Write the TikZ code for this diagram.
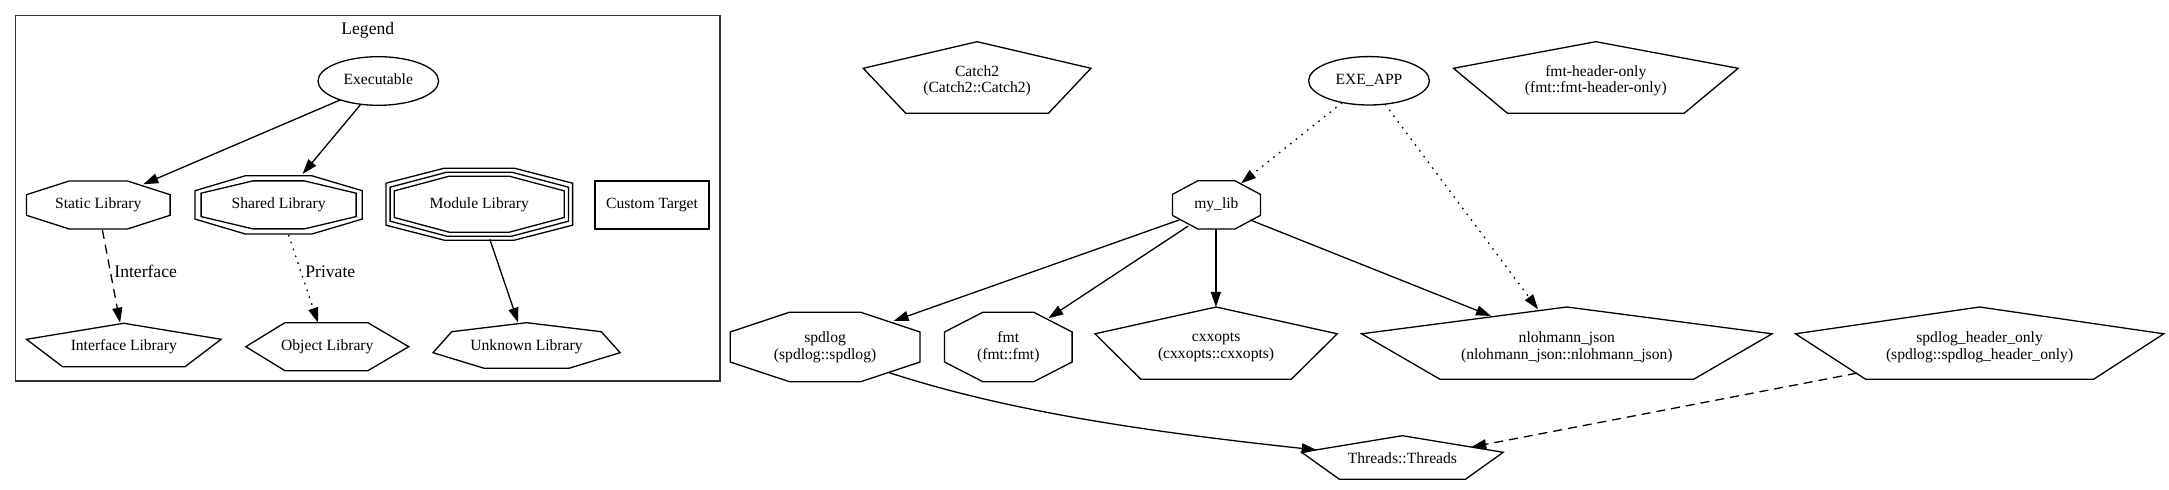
\documentclass[tikz,border=0pt]{standalone}
\usepackage{fontspec}
\setmainfont{Liberation Serif}
\usetikzlibrary{arrows.meta}
\tikzset{
  shp/.style={draw=black, line width=0.65pt, line join=miter},
  edge/.style={draw=black, line width=0.65pt, -{Triangle[length=7.5pt,width=5pt]}},
  dotline/.style={dash pattern=on 0.8pt off 2.8pt},
  dashline/.style={dash pattern=on 4.5pt off 3pt},
  lbl/.style={inner sep=0pt, font=\fontsize{7.8}{8.4}\selectfont, align=center},
  one/.style={lbl, text height=5.4pt, text depth=1.6pt},
  elbl/.style={inner sep=0pt, font=\fontsize{8.8}{10}\selectfont, anchor=west, text height=6pt, text depth=1.8pt},
  ttl/.style={inner sep=0pt, font=\fontsize{8.8}{10}\selectfont, text height=6pt, text depth=1.8pt},
}
% octagon: cx cy halfwidth halftop halfheight halfside
\newcommand\octg[6]{\draw[shp,shift={(#1,#2)}] (-#4,-#5)--(#4,-#5)--(#3,-#6)--(#3,#6)--(#4,#5)--(-#4,#5)--(-#3,#6)--(-#3,-#6)--cycle;}
% pentagon: cx apexy halfw sidey halfbot boty
\newcommand\pentg[6]{\draw[shp] (#1,#2)--(#1+#3,#4)--(#1+#5,#6)--(#1-#5,#6)--(#1-#3,#4)--cycle;}
\begin{document}
\begin{tikzpicture}[x=0.5pt,y=-0.5pt]
\useasboundingbox (0,0) rectangle (2169,490);

% ---------- Legend ----------
\draw[draw=black!80, line width=0.75pt] (15.4,15.5) rectangle (720.2,381);
\node[ttl] (legend) at (367.8,30) {Legend};

% Executable
\draw[shp] (378.3,81) ellipse [x radius=60.3, y radius=24.3];
\node[one] (exe) at (378.3,81) {Executable};
% Static Library
\octg{98.3}{205}{71.8}{29.1}{24}{10.3}
\node[one] (static) at (98.3,205) {Static Library};
% Shared Library
\octg{278.6}{204.9}{83.6}{33}{29.2}{14.2}
\octg{278.6}{204.9}{77.5}{25.7}{24}{11.7}
\node[one] (shared) at (278.6,205) {Shared Library};
% Module Library
\octg{479.3}{204.2}{93.3}{35}{36}{21}
\octg{479.3}{204.2}{89.2}{32.5}{32}{17}
\octg{479.3}{204.2}{85}{30}{28}{13.3}
\node[one] (module) at (479.3,205) {Module Library};
% Custom Target
\draw[shp] (595,181) rectangle (709,229);
\node[one] (custom) at (652,205) {Custom Target};
% Interface Library
\pentg{123.8}{323.3}{97.3}{339.3}{61.25}{366.7}
\node[one] (iface) at (123.8,347) {Interface Library};
% Object Library
\draw[shp] (245.8,346.7)--(284.9,322.7)--(367.8,322.7)--(408.8,346.7)--(367.8,370.7)--(284.9,370.7)--cycle;
\node[one] (object) at (327.3,347) {Object Library};
% Unknown Library
\draw[shp] (526.5,322.7)--(601.3,331.7)--(620.1,352.7)--(568.9,368.3)--(484.2,368.3)--(433,352.7)--(451.7,331.7)--cycle;
\node[one] (unknown) at (526.5,347) {Unknown Library};

% legend edges
\coordinate (exe-s1) at (340.4,99.9);
\coordinate (static-n) at (143.3,184.3);
\coordinate (exe-s2) at (360.8,104.3);
\coordinate (shared-n) at (302.6,174);
\coordinate (static-s) at (102.4,230);
\coordinate (iface-n) at (120.1,322.7);
\coordinate (shared-s) at (288.6,235);
\coordinate (object-n) at (318,322.7);
\coordinate (module-s) at (489.8,239.3);
\coordinate (unknown-n) at (518.2,322.7);
\draw[edge] (exe-s1) -- (static-n);
\draw[edge] (exe-s2) -- (shared-n);
\draw[edge,dashline] (static-s) -- (iface-n);
\node[elbl] (lblI) at (114,273.3) {Interface};
\draw[edge,dotline] (shared-s) -- (object-n);
\node[elbl] (lblP) at (305,273.3) {Private};
\draw[edge] (module-s) -- (unknown-n);

% ---------- Main graph ----------
% Catch2
\pentg{977.1}{41.7}{113.85}{68.3}{71.35}{113.3}
\node[lbl] (catch) at (977.1,80.8) {Catch2\\(Catch2::Catch2)};
% EXE_APP
\draw[shp] (1369,80.8) ellipse [x radius=60.4, y radius=24.2];
\node[one] (app) at (1369,80.8) {EXE\_APP};
% fmt-header-only
\pentg{1595.8}{41.7}{142.35}{68.3}{88.3}{113.3}
\node[lbl] (fmtho) at (1595.8,80.8) {fmt-header-only\\(fmt::fmt-header-only)};
% my_lib
\octg{1216.4}{204.9}{44}{18.4}{24.2}{10.5}
\node[one] (mylib) at (1216.4,205) {my\_lib};
% spdlog
\octg{825.1}{347}{94.9}{35.7}{34.7}{15}
\node[lbl] (spdlog) at (825.1,347) {spdlog\\(spdlog::spdlog)};
% fmt
\octg{1008.3}{347}{63.8}{25.5}{34.7}{15}
\node[lbl] (fmt) at (1008.3,347) {fmt\\(fmt::fmt)};
% cxxopts
\pentg{1216.1}{307}{121.15}{333.8}{75.25}{379.2}
\node[lbl] (cxx) at (1216.1,347) {cxxopts\\(cxxopts::cxxopts)};
% nlohmann_json
\pentg{1566.8}{307}{205.25}{333.8}{126.95}{379.2}
\node[lbl] (json) at (1566.8,347) {nlohmann\_json\\(nlohmann\_json::nlohmann\_json)};
% spdlog_header_only
\pentg{1979.6}{307}{184.15}{333.8}{114.1}{379.2}
\node[lbl] (spho) at (1979.6,347) {spdlog\_header\_only\\(spdlog::spdlog\_header\_only)};
% Threads
\pentg{1402.4}{435.7}{100.8}{452.3}{63}{479.3}
\node[one] (threads) at (1402.4,459.3) {Threads::Threads};

% main edges
\coordinate (app-s1) at (1342.1,102.7);
\coordinate (mylib-n) at (1241.1,183.3);
\coordinate (app-s2) at (1384.9,104);
\coordinate (json-n1) at (1538,309.3);
\coordinate (mylib-s1) at (1179.1,220);
\coordinate (spdlog-n) at (893.6,321);
\coordinate (mylib-s2) at (1188.3,226);
\coordinate (fmt-n) at (1048.3,318.3);
\coordinate (mylib-s3) at (1215.9,229);
\coordinate (cxx-n) at (1215.9,307);
\coordinate (mylib-s4) at (1250.3,220);
\coordinate (json-n2) at (1491,316);
\coordinate (spdlog-s) at (889.3,372.7);
\coordinate (threads-w) at (1316.7,450);
\coordinate (spho-s) at (1856.7,373.2);
\coordinate (threads-e) at (1471.2,447.1);

\draw[edge,dotline] (app-s1) -- (mylib-n);
\draw[edge,dotline] (app-s2) -- (json-n1);
\draw[edge] (mylib-s1) -- (spdlog-n);
\draw[edge] (mylib-s2) -- (fmt-n);
\draw[edge] (mylib-s3) -- (cxx-n);
\draw[edge] (mylib-s4) -- (json-n2);
\draw[edge] (spdlog-s) .. controls (1010,412) and (1150,432) .. (threads-w);
\draw[edge,dashline] (spho-s) -- (threads-e);
\end{tikzpicture}
\end{document}
